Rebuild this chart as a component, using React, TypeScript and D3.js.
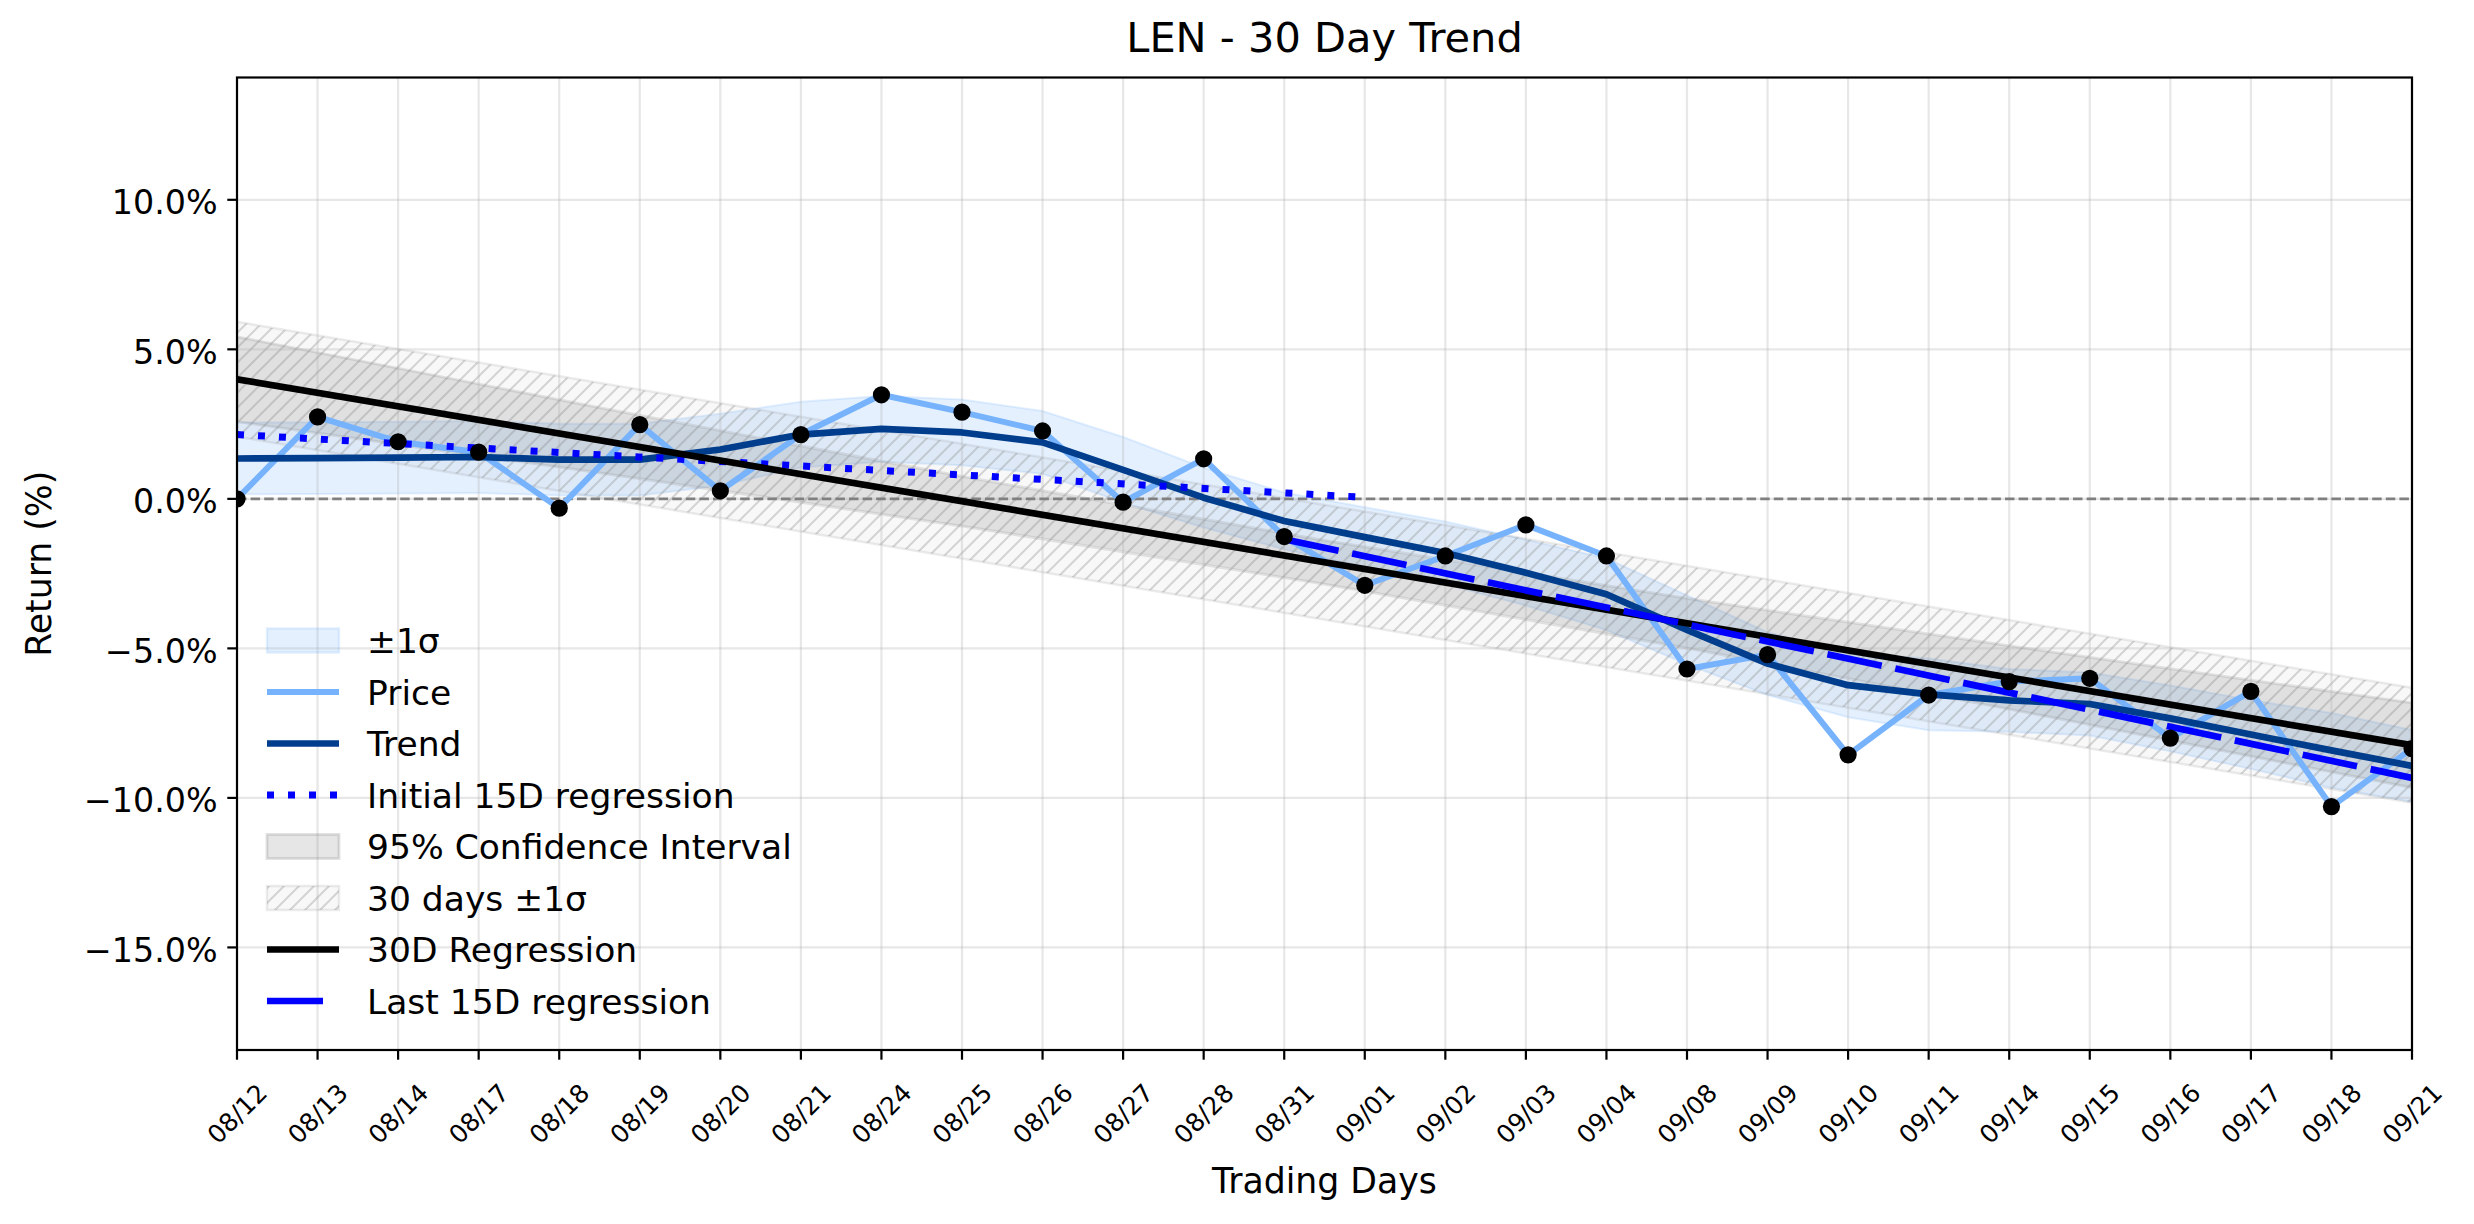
import * as d3 from "d3"

// trading days on the x axis
const dates = [
  "08/12", "08/13", "08/14", "08/17", "08/18", "08/19", "08/20", "08/21", "08/24", "08/25",
  "08/26", "08/27", "08/28", "08/31", "09/01", "09/02", "09/03", "09/04", "09/08", "09/09",
  "09/10", "09/11", "09/14", "09/15", "09/16", "09/17", "09/18", "09/21",
]

// return (%) per day
const price = [
  0, 2.74, 1.91, 1.56, -0.31, 2.48, 0.27, 2.15, 3.48, 2.9,
  2.27, -0.11, 1.34, -1.26, -2.89, -1.91, -0.87, -1.91, -5.69, -5.21,
  -8.56, -6.56, -6.11, -6.0, -8.0, -6.44, -10.29, -8.35,
]

// smoothed trend and its ±1σ half width
const trend = [
  1.35, 1.36, 1.38, 1.4, 1.31, 1.31, 1.65, 2.15, 2.34, 2.22,
  1.89, 0.97, 0.04, -0.74, -1.28, -1.81, -2.47, -3.19, -4.38, -5.51,
  -6.23, -6.54, -6.74, -6.86, -7.34, -7.88, -8.41, -8.93,
]
const sigma = [
  1.2, 1.2, 1.2, 1.2, 1.2, 1.2, 1.2, 1.1, 1.1, 1.1,
  1.05, 1.1, 1.0, 0.95, 1.0, 1.05, 1.1, 1.2, 1.15, 1.05,
  1.07, 1.2, 1.05, 1.05, 1.1, 1.15, 1.25, 1.2,
]

// 30 day regression, its ±1σ band and 95% confidence interval
const reg30X = [0, 27]
const reg30Y = [4.0, -8.24]
const band30Upper = [5.92, -6.32]
const band30Lower = [2.08, -10.16]
const ciX = [0, 4.5, 9, 13.5, 18, 22.5, 27]
const ciUpper = [5.42, 3.05, 0.75, -1.39, -3.33, -5.11, -6.82]
const ciLower = [2.58, 0.87, -0.91, -2.85, -4.99, -7.29, -9.66]

// 15 day regressions
const init15X = [0, 14]
const init15Y = [2.15, 0.05]
const last15X = [13, 27]
const last15Y = [-1.35, -9.33]

const yTicks = [-15, -10, -5, 0, 5, 10]
const yDomain = [-18.43, 14.09]

const legendLabels = [
  "±1σ", "Price", "Trend", "Initial 15D regression",
  "95% Confidence Interval", "30 days ±1σ", "30D Regression", "Last 15D regression",
]

const W = 2474
const H = 1224
const M = { left: 237, right: 2412, top: 77.5, bottom: 1050 }
const FONT = "DejaVu Sans"

const C = {
  price: "#77b3fd",
  trend: "#003d8c",
  band: "#7ab6fb",
  blue: "#0000ff",
  gray: "#808080",
  grid: "#b0b0b0",
}

type P = [number, number]
const pts = (xs: number[], ys: number[]): P[] => xs.map((v, i) => [v, ys[i]])

export default function App() {
  const x = d3.scaleLinear().domain([0, dates.length - 1]).range([M.left, M.right])
  const y = d3.scaleLinear().domain(yDomain).range([M.bottom, M.top])

  const line = d3.line<P>().x((d) => x(d[0])).y((d) => y(d[1]))

  const sigmaArea = d3.area<number>()
    .x((_, i) => x(i))
    .y0((v, i) => y(v - sigma[i]))
    .y1((v, i) => y(v + sigma[i]))

  const ciArea = d3.area<number>()
    .x((v) => x(v))
    .y0((_, i) => y(ciLower[i]))
    .y1((_, i) => y(ciUpper[i]))
    .curve(d3.curveNatural)

  const bandArea = d3.area<number>()
    .x((v) => x(v))
    .y0((_, i) => y(band30Lower[i]))
    .y1((_, i) => y(band30Upper[i]))

  const pricePts = price.map((v, i) => [i, v] as P)
  const trendPts = trend.map((v, i) => [i, v] as P)

  const fmt = (v: number) => `${v < 0 ? "\u2212" : ""}${Math.abs(v).toFixed(1)}%`

  // legend geometry
  const lgX0 = 267
  const lgX1 = 339
  const lgText = 367
  const lgY = (i: number) => 640.5 + i * 51.5

  const legendHandle = (i: number) => {
    const cy = lgY(i)
    switch (i) {
      case 0:
        return (
          <rect x={lgX0} y={cy - 12} width={lgX1 - lgX0} height={24}
            fill={C.band} fillOpacity={0.2} stroke={C.band} strokeOpacity={0.2} strokeWidth={2.5} />
        )
      case 1:
        return <line x1={lgX0} x2={lgX1} y1={cy} y2={cy} stroke={C.price} strokeWidth={6} />
      case 2:
        return <line x1={lgX0} x2={lgX1} y1={cy} y2={cy} stroke={C.trend} strokeWidth={6.7} />
      case 3:
        return <line x1={lgX0} x2={lgX1} y1={cy} y2={cy} stroke={C.blue} strokeWidth={7} strokeDasharray="7 14" />
      case 4:
        return (
          <rect x={lgX0} y={cy - 12} width={lgX1 - lgX0} height={24}
            fill={C.gray} fillOpacity={0.2} stroke={C.gray} strokeOpacity={0.25} strokeWidth={2.8} />
        )
      case 5:
        return (
          <g>
            <rect x={lgX0} y={cy - 12} width={lgX1 - lgX0} height={24} fill={C.gray} fillOpacity={0.06} />
            <rect x={lgX0} y={cy - 12} width={lgX1 - lgX0} height={24} fill="url(#hatch)" />
            <rect x={lgX0} y={cy - 12} width={lgX1 - lgX0} height={24}
              fill="none" stroke={C.gray} strokeOpacity={0.15} strokeWidth={2.5} />
          </g>
        )
      case 6:
        return <line x1={lgX0} x2={lgX1} y1={cy} y2={cy} stroke="#000" strokeWidth={6.7} />
      default:
        return <line x1={lgX0} x2={lgX0 + 56} y1={cy} y2={cy} stroke={C.blue} strokeWidth={6.7} />
    }
  }

  return (
    <svg width={W} height={H} viewBox={`0 0 ${W} ${H}`}
      style={{ position: "absolute", left: 0, top: 0, display: "block", background: "#fff" }}
      fontFamily={FONT}>
      <defs>
        <clipPath id="plot">
          <rect x={M.left} y={M.top} width={M.right - M.left} height={M.bottom - M.top} />
        </clipPath>
        <pattern id="hatch" patternUnits="userSpaceOnUse" width={15} height={15}>
          <path d="M-3.75,3.75 l7.5,-7.5 M0,15 l15,-15 M11.25,18.75 l7.5,-7.5"
            stroke={C.gray} strokeOpacity={0.3} strokeWidth={2} />
        </pattern>
      </defs>

      <rect x={0} y={0} width={W} height={H} fill="#fff" />

      <g clipPath="url(#plot)">
        {/* bands */}
        <path d={sigmaArea(trend) || ""} fill={C.band} fillOpacity={0.2}
          stroke={C.band} strokeOpacity={0.2} strokeWidth={2} />
        <path d={ciArea(ciX) || ""} fill={C.gray} fillOpacity={0.2}
          stroke={C.gray} strokeOpacity={0.2} strokeWidth={2.8} />
        <path d={bandArea(reg30X) || ""} fill={C.gray} fillOpacity={0.06} />
        <path d={bandArea(reg30X) || ""} fill="url(#hatch)"
          stroke={C.gray} strokeOpacity={0.15} strokeWidth={2.5} />

        {/* grid */}
        {dates.map((_, i) => (
          <line key={"gx" + i} x1={x(i)} x2={x(i)} y1={M.top} y2={M.bottom}
            stroke={C.grid} strokeOpacity={0.3} strokeWidth={2.2} />
        ))}
        {yTicks.map((t) => (
          <line key={"gy" + t} x1={M.left} x2={M.right} y1={y(t)} y2={y(t)}
            stroke={C.grid} strokeOpacity={0.3} strokeWidth={2.2} />
        ))}

        {/* zero line */}
        <line x1={M.left} x2={M.right} y1={y(0)} y2={y(0)}
          stroke={C.gray} strokeWidth={2.8} strokeDasharray="9.5 4.1" />

        {/* lines */}
        <path d={line(pricePts) || ""} fill="none" stroke={C.price} strokeWidth={6} strokeLinejoin="round" />
        <path d={line(trendPts) || ""} fill="none" stroke={C.trend} strokeWidth={6.7} strokeLinejoin="round" />
        <path d={line(pts(init15X, init15Y)) || ""} fill="none" stroke={C.blue} strokeWidth={7}
          strokeDasharray="7 14" />
        <path d={line(pts(reg30X, reg30Y)) || ""} fill="none" stroke="#000" strokeWidth={6.7} />
        <path d={line(pts(last15X, last15Y)) || ""} fill="none" stroke={C.blue} strokeWidth={6.7}
          strokeDasharray="55.5 13.9" />

        {/* price markers */}
        {price.map((v, i) => (
          <circle key={"p" + i} cx={x(i)} cy={y(v)} r={8.6} fill="#000" />
        ))}
      </g>

      {/* spines */}
      <rect x={M.left} y={M.top} width={M.right - M.left} height={M.bottom - M.top}
        fill="none" stroke="#000" strokeWidth={2.2} />

      {/* y axis */}
      {yTicks.map((t) => (
        <g key={"yt" + t}>
          <line x1={M.left - 9.7} x2={M.left} y1={y(t)} y2={y(t)} stroke="#000" strokeWidth={2.2} />
          <text x={M.left - 19.4} y={y(t) + 14.5} textAnchor="end" fontSize={33.3} fill="#000">
            {fmt(t)}
          </text>
        </g>
      ))}

      {/* x axis */}
      {dates.map((d, i) => (
        <g key={"xt" + i}>
          <line x1={x(i)} x2={x(i)} y1={M.bottom} y2={M.bottom + 9.7} stroke="#000" strokeWidth={2.2} />
          <text transform={`translate(${x(i)},1113.5) rotate(-45)`} textAnchor="middle" dy="0.36em"
            fontSize={25} fill="#000">
            {d}
          </text>
        </g>
      ))}

      <text x={(M.left + M.right) / 2} y={1193} textAnchor="middle" fontSize={34.7} fill="#000">
        Trading Days
      </text>
      <text transform={`translate(50.5,${(M.top + M.bottom) / 2}) rotate(-90)`} textAnchor="middle"
        fontSize={34.7} fill="#000">
        Return (%)
      </text>
      <text x={(M.left + M.right) / 2} y={51.5} textAnchor="middle" fontSize={41.5} fill="#000">
        LEN - 30 Day Trend
      </text>

      {/* legend */}
      {legendLabels.map((label, i) => (
        <g key={"lg" + i}>
          {legendHandle(i)}
          <text x={lgText} y={lgY(i) + 12.8} fontSize={34.5} fill="#000">{label}</text>
        </g>
      ))}
    </svg>
  )
}
